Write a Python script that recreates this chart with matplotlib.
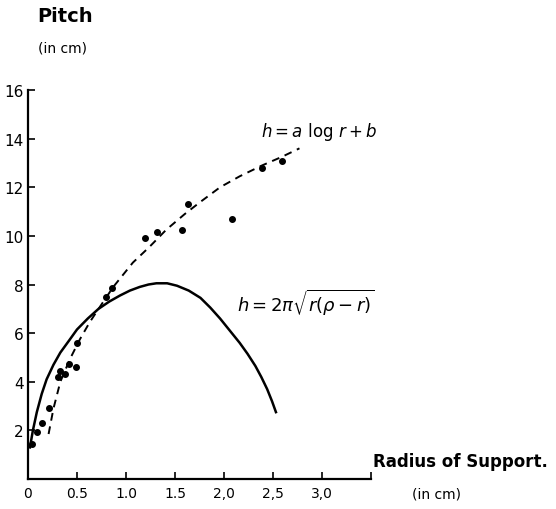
import numpy as np
import matplotlib
matplotlib.use("Agg")
import matplotlib.pyplot as plt

# measured points: radius of support (cm) vs pitch (cm)
radius_pts = [0.04, 0.09, 0.14, 0.21, 0.31, 0.33, 0.38, 0.42, 0.49, 0.50,
              0.80, 0.86, 1.19, 1.32, 1.57, 1.63, 2.08, 2.39, 2.59]
pitch_pts = [1.45, 1.95, 2.3, 2.9, 4.2, 4.45, 4.3, 4.75, 4.6, 5.6,
             7.5, 7.85, 9.9, 10.15, 10.25, 11.3, 10.7, 12.8, 13.1]

# dashed curve h = a log r + b
log_r = [0.21, 0.26, 0.33, 0.43, 0.53, 0.63, 0.72, 0.87, 1.07, 1.24,
         1.41, 1.60, 1.76, 1.96, 2.16, 2.39, 2.59, 2.77]
log_h = [1.85, 2.9, 4.0, 4.95, 5.75, 6.45, 7.0, 7.9, 8.9, 9.55,
         10.25, 10.9, 11.4, 12.0, 12.45, 12.9, 13.25, 13.6]

# solid curve h = 2*pi*sqrt(r(rho - r))
sqrt_r = [0.02, 0.05, 0.09, 0.14, 0.19, 0.26, 0.33, 0.42, 0.50, 0.61, 0.72,
          0.83, 0.94, 1.04, 1.14, 1.23, 1.31, 1.42, 1.52, 1.64, 1.76,
          1.86, 1.96, 2.06, 2.16, 2.24, 2.32, 2.38, 2.44, 2.49, 2.53]
sqrt_h = [1.3, 2.0, 2.75, 3.5, 4.1, 4.7, 5.2, 5.7, 6.15, 6.6, 7.0,
          7.3, 7.55, 7.75, 7.9, 8.0, 8.05, 8.05, 7.95, 7.75, 7.45,
          7.05, 6.6, 6.1, 5.6, 5.15, 4.65, 4.2, 3.7, 3.2, 2.75]

x_ticks = [0, 0.5, 1.0, 1.5, 2.0, 2.5, 3.0, 3.5]
x_labels = ["0", "0.5", "1.0", "1.5", "2,0", "2,5", "3,0", ""]
y_ticks = [2, 4, 6, 8, 10, 12, 14, 16]
y_labels = ["2", "4", "6", "8", "10", "12", "14", "16"]


def main():
    fig = plt.figure(figsize=(5.56, 5.10), dpi=100)
    ax = fig.add_axes([28 / 556, 30 / 510, 343 / 556, 389 / 510])

    ax.plot(log_r, log_h, color="black", lw=1.4, ls=(0, (4, 3)))
    ax.plot(sqrt_r, sqrt_h, color="black", lw=1.8)
    ax.plot(radius_pts, pitch_pts, "o", color="black", ms=4)

    ax.set_xlim(0, 3.5)
    ax.set_ylim(0, 16)
    for side in ("top", "right"):
        ax.spines[side].set_visible(False)
    ax.spines["left"].set_linewidth(1.6)
    ax.spines["bottom"].set_linewidth(1.6)

    ax.set_xticks(x_ticks)
    ax.set_xticklabels(x_labels, fontsize=10)
    ax.set_yticks(y_ticks)
    ax.set_yticklabels(y_labels, fontsize=11)
    ax.tick_params(axis="both", direction="in", length=5, width=1.2, pad=5)
    ax.tick_params(axis="y", pad=3)

    # axis titles, hand lettered in the original
    fig.text(37 / 556, 1 - 17 / 510, "Pitch", fontsize=14, fontweight="bold",
             va="center", ha="left")
    fig.text(38 / 556, 1 - 48 / 510, "(in cm)", fontsize=10,
             va="center", ha="left")
    fig.text(373 / 556, 1 - 462 / 510, "Radius of Support.", fontsize=12,
             fontweight="bold", va="center", ha="left")
    fig.text(412 / 556, 1 - 495 / 510, "(in cm)", fontsize=10,
             va="center", ha="left")

    # formulas next to their curves
    ax.text(2.38, 14.3, r"$h = a\ \log\, r + b$", fontsize=12,
            ha="left", va="center")
    ax.text(2.13, 7.3, r"$h = 2\pi\sqrt{r(\rho - r)}$", fontsize=13,
            ha="left", va="center")

    fig.savefig("out.png", dpi=100)
    plt.close(fig)


if __name__ == "__main__":
    main()
